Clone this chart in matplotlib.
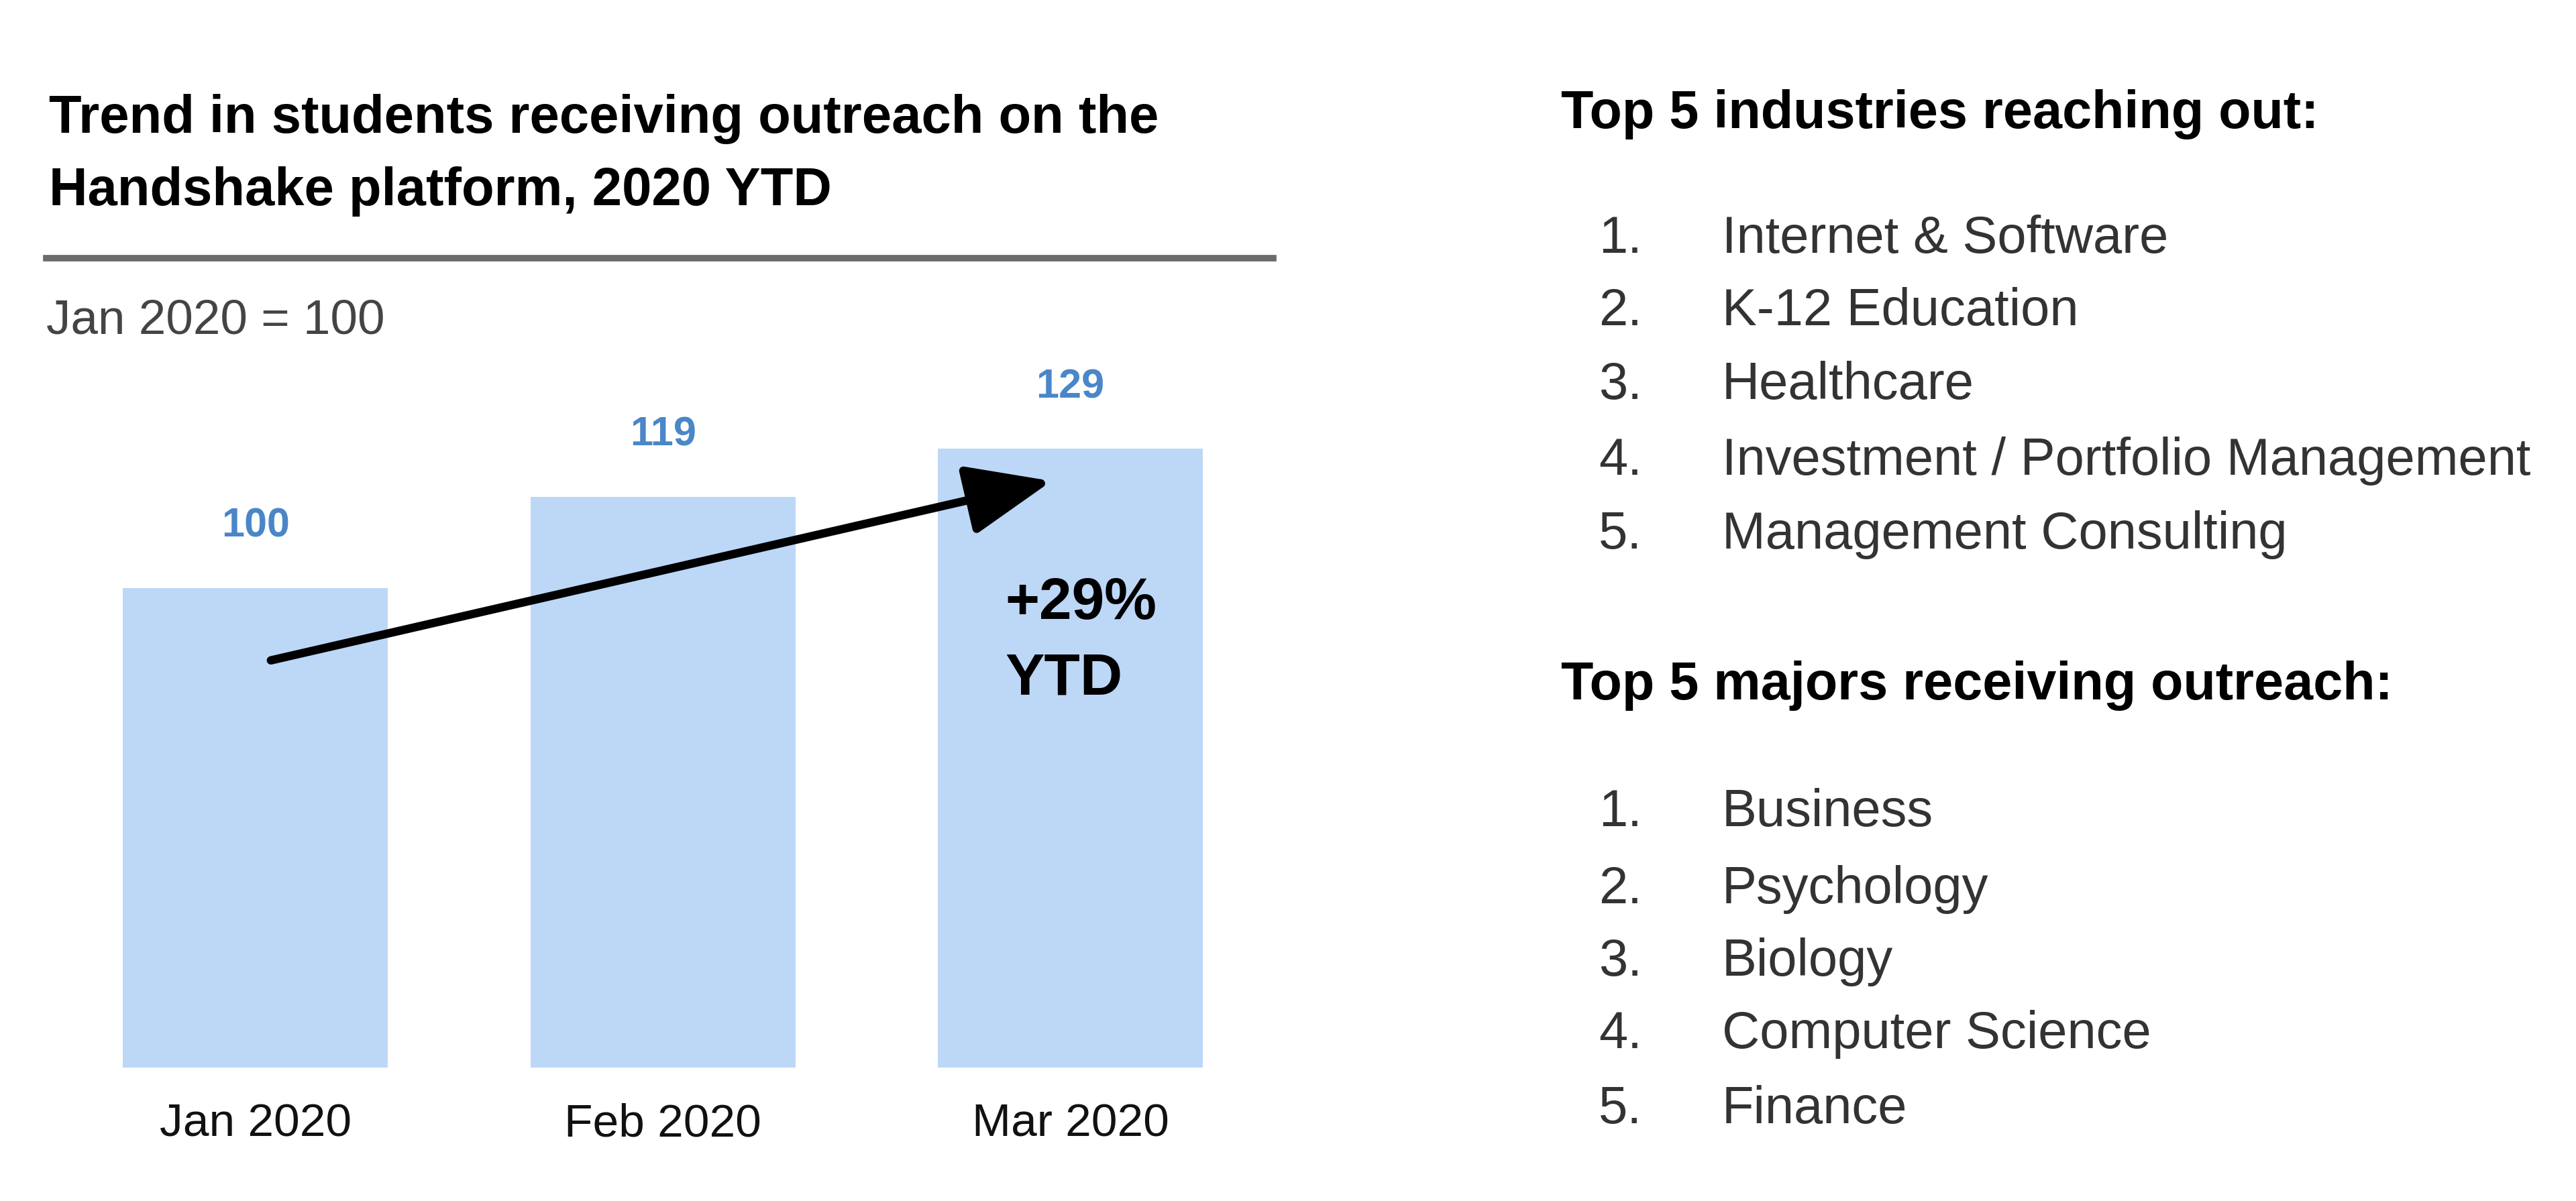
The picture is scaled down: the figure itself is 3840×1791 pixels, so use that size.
import matplotlib
matplotlib.use("Agg")
import matplotlib.pyplot as plt

# ========= Data =========
months = ["Jan 2020", "Feb 2020", "Mar 2020"]
index_values = [100, 119, 129]
growth_label = "+29%\nYTD"

industries = ["Internet & Software", "K-12 Education", "Healthcare",
              "Investment / Portfolio Management", "Management Consulting"]
majors = ["Business", "Psychology", "Biology", "Computer Science", "Finance"]

BAR_COLOR = "#bdd7f7"
LABEL_BLUE = "#4a86c8"
TEXT_GRAY = "#333333"

plt.rcParams["font.family"] = ["Liberation Sans", "DejaVu Sans"]

# reference layout was measured on a 1568 x 731 preview
W, H = 1568.0, 731.3


def fx(x):
    return x / W


def fy(y):
    return 1 - y / H


fig = plt.figure(figsize=(38.4, 17.91), dpi=100)

# ========= Title block =========
fig.text(fx(30), fy(81), "Trend in students receiving outreach on the",
         fontsize=57.3, fontweight="bold", color="black", va="baseline")
fig.text(fx(30), fy(125), "Handshake platform, 2020 YTD",
         fontsize=57.3, fontweight="bold", color="black", va="baseline")
fig.add_artist(plt.Line2D([fx(28), fx(775)], [fy(157), fy(157)],
                          color="#6b6b6b", lw=7, transform=fig.transFigure))
fig.text(fx(28), fy(203), "Jan 2020 = 100", fontsize=52.5, color="#444444",
         va="baseline")

# ========= Bar chart =========
ax = fig.add_axes([fx(28), fy(650), fx(775) - fx(28), fy(205) - fy(650)])
x = list(range(len(months)))
bars = ax.bar(x, index_values, width=0.65, color=BAR_COLOR)
ax.set_xlim(-0.514, 2.498)
ax.set_ylim(0, 152.4)

for xi, v in zip(x, index_values):
    ax.annotate(str(v), (xi, v), xytext=(0, 55), textcoords="offset points",
                ha="center", va="baseline", fontsize=44, fontweight="bold",
                color=LABEL_BLUE)

ax.set_xticks(x)
ax.set_xticklabels(months, fontsize=50, color="#111111")
ax.tick_params(axis="x", length=0, pad=38)
ax.set_yticks([])
for s in ax.spines.values():
    s.set_visible(False)

# trend arrow
ax.annotate("", xy=(1.954, 122.3), xytext=(0.038, 84.9),
            arrowprops=dict(arrowstyle="-|>,head_length=3.9,head_width=1.6",
                            mutation_scale=20, lw=9, color="black",
                            shrinkA=0, shrinkB=0))
ax.text(1.84, (650 - 423) / 2.92, growth_label, fontsize=63, fontweight="bold",
        color="black", va="baseline", ha="left", linespacing=1.5)

# ========= Lists on the right =========
fig.text(fx(950), fy(78), "Top 5 industries reaching out:", fontsize=57,
         fontweight="bold", color="black", va="baseline")
ind_y = [154, 198, 243, 289, 334]
for i, (name, yy) in enumerate(zip(industries, ind_y)):
    fig.text(fx(973), fy(yy), f"{i + 1}.", fontsize=56, color=TEXT_GRAY, va="baseline")
    fig.text(fx(1048), fy(yy), name, fontsize=56, color=TEXT_GRAY, va="baseline")

fig.text(fx(950), fy(426), "Top 5 majors receiving outreach:", fontsize=57,
         fontweight="bold", color="black", va="baseline")
maj_y = [503, 550, 594, 638, 684]
for i, (name, yy) in enumerate(zip(majors, maj_y)):
    fig.text(fx(973), fy(yy), f"{i + 1}.", fontsize=56, color=TEXT_GRAY, va="baseline")
    fig.text(fx(1048), fy(yy), name, fontsize=56, color=TEXT_GRAY, va="baseline")

fig.savefig("out.png", dpi=100, facecolor="white")
